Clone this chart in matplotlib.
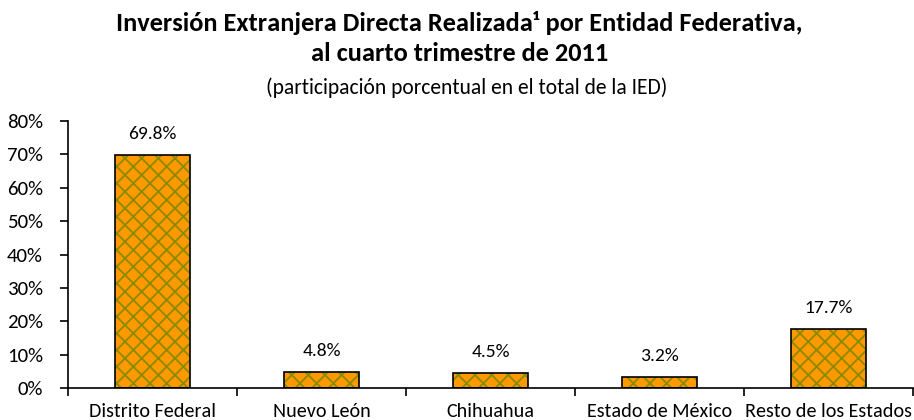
import matplotlib
matplotlib.use("Agg")
import matplotlib.pyplot as plt
import numpy as np

# Datos
entidades = ["Distrito Federal", "Nuevo León", "Chihuahua", "Estado de México", "Resto de los Estados"]
participacion = [69.8, 4.8, 4.5, 3.2, 17.7]
etiquetas = ["69.8%", "4.8%", "4.5%", "3.2%", "17.7%"]
y_ticks = [0, 10, 20, 30, 40, 50, 60, 70, 80]

plt.rcParams['font.family'] = ['Carlito', 'DejaVu Sans']
plt.rcParams['hatch.linewidth'] = 1.3

fig = plt.figure(figsize=(9.14, 4.2), dpi=100)
ax = fig.add_axes([0.0744, 0.076, 0.9245, 0.636])

x = np.arange(len(entidades))
ax.bar(x, participacion, width=0.44, color="#FF9900", edgecolor="#8A8A00",
       hatch="xx", linewidth=0, zorder=2)
ax.bar(x, participacion, width=0.44, fill=False, edgecolor="black",
       linewidth=1.2, zorder=3)

for xi, v, t in zip(x, participacion, etiquetas):
    ax.text(xi, v + 4.0, t, ha="center", va="bottom", fontsize=14)

ax.set_xlim(-0.5, len(entidades) - 0.5)
ax.set_ylim(0, 80)
ax.set_yticks(y_ticks)
ax.set_yticklabels([f"{v}%" for v in y_ticks], fontsize=15)
ax.set_xticks(x)
ax.set_xticklabels(entidades, fontsize=14.5)
ax.set_xticks(np.arange(len(entidades) + 1) - 0.5, minor=True)
ax.tick_params(axis="x", which="major", length=0, pad=11)
ax.tick_params(axis="x", which="minor", length=6, width=1.2)
ax.tick_params(axis="y", length=6, width=1.2, pad=12)

for s in ["top", "right"]:
    ax.spines[s].set_visible(False)
ax.spines["left"].set_linewidth(1.2)
ax.spines["bottom"].set_linewidth(1.2)

fig.text(0.503, 0.946, "Inversión Extranjera Directa Realizada¹ por Entidad Federativa,",
         ha="center", va="center", fontsize=19, fontweight="bold")
fig.text(0.503, 0.872, "al cuarto trimestre de 2011",
         ha="center", va="center", fontsize=19, fontweight="bold")
fig.text(0.511, 0.792, "(participación porcentual en el total de la IED)",
         ha="center", va="center", fontsize=15.5)

fig.savefig("out.png", dpi=100)
